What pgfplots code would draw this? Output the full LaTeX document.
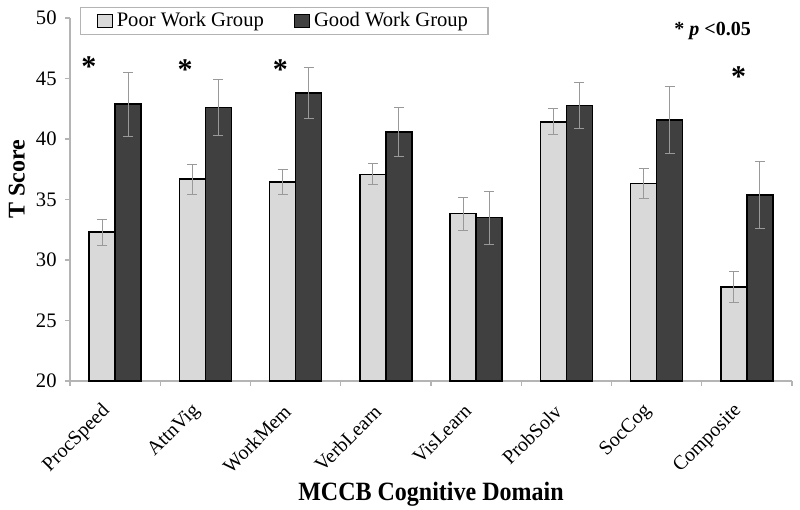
\documentclass[border=0pt]{standalone}
\usepackage{fontspec}
\setmainfont{Liberation Serif}
\usepackage{pgfplots}
\pgfplotsset{compat=1.18}
\definecolor{poor}{HTML}{D9D9D9}
\definecolor{good}{HTML}{404040}
\definecolor{axgray}{HTML}{B4B4B4}
\definecolor{errgray}{HTML}{999999}
\begin{document}
\begin{tikzpicture}
\path[use as bounding box] (-35pt,-64.5pt) rectangle (365pt,190.5pt);
\begin{axis}[
  at={(0,0)}, anchor=south west,
  scale only axis, width=361pt, height=181.5pt,
  xmin=-0.5, xmax=7.5, ymin=20, ymax=50,
  clip=false,
  ybar=0pt, bar width=13pt,
  axis x line*=bottom, axis y line*=left,
  axis line style={axgray, line width=0.6pt, -},
  tick align=outside,
  xtick={0,...,7},
  xticklabels={ProcSpeed,AttnVig,WorkMem,VerbLearn,VisLearn,ProbSolv,SocCog,Composite},
  major x tick style={draw=none},
  minor xtick={-0.5,0.5,...,7.5},
  minor tick length=2.5pt,
  major tick length=2.5pt,
  ytick={20,25,...,50},
  tick style={axgray, line width=0.6pt},
  /pgf/number format/assume math mode=true,
  yticklabel style={inner sep=0pt, font=\fontsize{10.3}{12}\selectfont},
  yticklabel shift=4pt,
  xticklabel style={xshift=-4pt, rotate=45, anchor=east, inner sep=0pt, font=\fontsize{10}{12}\selectfont},
  xticklabel shift=11pt,
  every axis y label/.style={at={(rel axis cs:-0.062,0.555)}, rotate=90, anchor=south, inner sep=0pt, font=\fontsize{12}{14}\selectfont\bfseries},
  ylabel={T Score},
  every axis x label/.style={at={(rel axis cs:0.5,-0.328)}, anchor=base, inner sep=0pt, font=\fontsize{12}{14}\selectfont\bfseries},
  xlabel={\scalebox{1}[1.1]{MCCB Cognitive Domain}},
  legend style={at={(rel axis cs:0,1)}, anchor=north west, xshift=5pt, yshift=5.5pt,
    draw=axgray, line width=0.6pt, legend columns=2, font=\fontsize{10.3}{12}\selectfont,
    inner xsep=8pt, inner ysep=0.5pt,
    /tikz/every even column/.append style={column sep=13pt}},
  legend image code/.code={\draw[#1, line width=0.6pt] (0pt,-3.3pt) rectangle (7.5pt,3.3pt);},
  error bars/error bar style={errgray, line width=0.4pt},
  error bars/error mark options={errgray, line width=0.4pt, mark size=2.5pt, rotate=90},
]
\addplot[fill=poor, draw=black, line width=0.8pt,
  error bars/.cd, y dir=both, y explicit]
coordinates {
(0,32.29) +- (0,1.1)
(1,36.69) +- (0,1.25)
(2,36.47) +- (0,1.05)
(3,37.08) +- (0,0.87)
(4,33.83) +- (0,1.35)
(5,41.43) +- (0,1.07)
(6,36.33) +- (0,1.22)
(7,27.79) +- (0,1.3)
};
\addplot[fill=good, draw=black, line width=0.8pt,
  error bars/.cd, y dir=both, y explicit]
coordinates {
(0,42.89) +- (0,2.65)
(1,42.61) +- (0,2.3)
(2,43.80) +- (0,2.1)
(3,40.58) +- (0,2.05)
(4,33.50) +- (0,2.17)
(5,42.78) +- (0,1.9)
(6,41.57) +- (0,2.75)
(7,35.37) +- (0,2.75)
};
\legend{Poor Work Group, Good Work Group}
\node[font=\fontsize{15}{15}\selectfont\bfseries] at (axis cs:-0.29,46.0) {*};
\node[font=\fontsize{15}{15}\selectfont\bfseries] at (axis cs:0.775,45.7) {*};
\node[font=\fontsize{15}{15}\selectfont\bfseries] at (axis cs:1.83,45.7) {*};
\node[font=\fontsize{15}{15}\selectfont\bfseries] at (axis cs:6.91,45.17) {*};
\node[font=\fontsize{10}{12}\selectfont\bfseries] at (axis cs:6.62,48.92) {* \textit{p} <0.05};
\end{axis}
\end{tikzpicture}
\end{document}
